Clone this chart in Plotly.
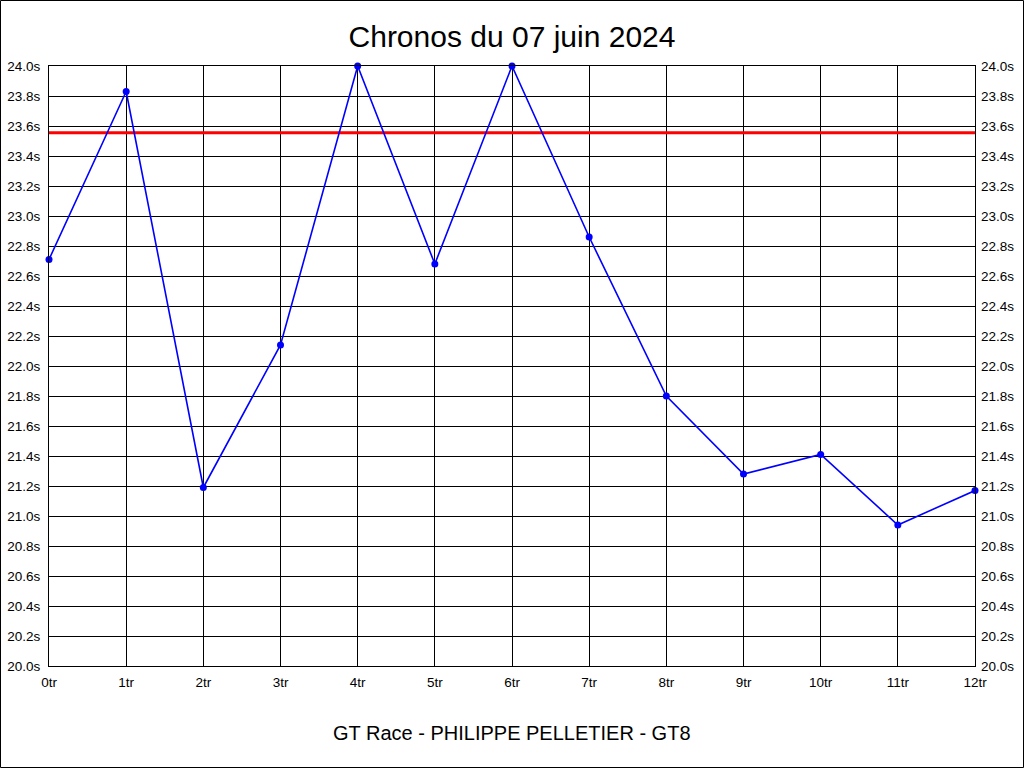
import plotly.graph_objects as go

laps = list(range(13))
lap_labels = [f"{i}tr" for i in laps]
lap_times = [22.71, 23.83, 21.19, 22.14, 24.0, 22.68, 24.0, 22.86, 21.80, 21.28, 21.41, 20.94, 21.17]
reference_time = 23.555
y_ticks = [round(20.0 + 0.2 * i, 1) for i in range(21)]
y_tick_labels = [f"{v:.1f}s" for v in y_ticks]

W, H = 1024, 768
L, R, T, B = 49, 49, 66, 102
pw, ph = W - L - R, H - T - B

fig = go.Figure()
fig.add_trace(go.Scatter(
    x=[laps[0], laps[-1]], y=[reference_time, reference_time], mode="lines",
    line=dict(color="#ff0000", width=3), hoverinfo="skip", showlegend=False))
fig.add_trace(go.Scatter(
    x=laps, y=lap_times, mode="lines+markers",
    line=dict(color="#0000ff", width=1.6),
    marker=dict(color="#0000ff", size=7), showlegend=False, cliponaxis=False))
fig.add_trace(go.Scatter(x=[laps[0]], y=[y_ticks[0]], yaxis="y2", mode="markers",
                         marker=dict(opacity=0), hoverinfo="skip", showlegend=False))

font = "Liberation Sans, Arial, sans-serif"
axis_common = dict(showgrid=True, gridcolor="#000000", gridwidth=1, zeroline=False,
                   showline=True, linecolor="#000000", linewidth=1, ticks="",
                   automargin=False,
                   tickfont=dict(family=font, size=13.5, color="#000000"))

fig.update_layout(
    width=W, height=H,
    margin=dict(l=L, r=R, t=T, b=B, pad=0),
    paper_bgcolor="#ffffff", plot_bgcolor="#ffffff",
    title=dict(text="Chronos du 07 juin 2024", x=0.5, xanchor="center",
               y=1 - 36 / H, yanchor="middle",
               font=dict(family=font, size=30, color="#000000")),
    xaxis=dict(range=[laps[0], laps[-1]], tickvals=laps, ticktext=lap_labels,
               mirror=True, ticklabelstandoff=4, **axis_common),
    yaxis=dict(range=[y_ticks[0], y_ticks[-1]], tickvals=y_ticks, ticktext=y_tick_labels,
               mirror=True, ticklabelstandoff=5, **axis_common),
    yaxis2=dict(range=[y_ticks[0], y_ticks[-1]], tickvals=y_ticks, ticktext=y_tick_labels,
                overlaying="y", side="right", showgrid=False, zeroline=False,
                showline=False, ticks="", ticklabelstandoff=5, automargin=False,
                tickfont=dict(family=font, size=13.5, color="#000000")),
    annotations=[dict(text="GT Race - PHILIPPE PELLETIER - GT8", xref="paper", yref="paper",
                      x=0.5, y=-(733 - 666) / ph, xanchor="center", yanchor="middle",
                      showarrow=False, font=dict(family=font, size=20, color="#000000"))],
    shapes=[dict(type="rect", xref="paper", yref="paper",
                 x0=(0.5 - L) / pw, x1=(W - 0.5 - L) / pw,
                 y0=(T + ph - (H - 0.5)) / ph, y1=(T + ph - 0.5) / ph,
                 line=dict(color="#000000", width=1), layer="below")],
)

fig.write_html("out.html", config={"displayModeBar": False})
with open("out.html", encoding="utf-8") as f:
    html = f.read()
html = html.replace("<head>", "<head><style>html,body{margin:0;padding:0;overflow:hidden;}</style>", 1)
with open("out.html", "w", encoding="utf-8") as f:
    f.write(html)
